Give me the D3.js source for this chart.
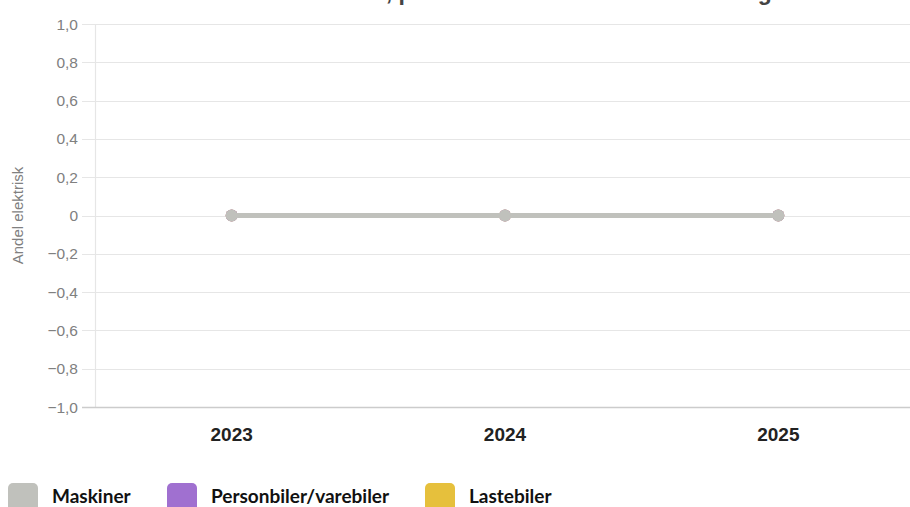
<!DOCTYPE html>
<html>
<head>
<meta charset="utf-8">
<script src="https://cdn.jsdelivr.net/npm/d3@7"></script>
<style>
  html, body { margin: 0; padding: 0; background: #fff; }
  svg { display: block; }
</style>
</head>
<body>
<svg id="chart" width="910" height="507"></svg>
<script>
const titleText = "Andel elektrisk, per sektor i kommunen – utvikling";
const years = ["2023", "2024", "2025"];
const seriesNames = ["Maskiner", "Personbiler/varebiler", "Lastebiler"];
const seriesColors = ["#c0c1bc", "#a070d0", "#e6c03c"];
const maskiner = [0, 0, 0];
const personbiler = [0, 0, 0];
const lastebiler = [0, 0, 0];
const yTicks = [-1.0, -0.8, -0.6, -0.4, -0.2, 0, 0.2, 0.4, 0.6, 0.8, 1.0];
const yTitle = "Andel elektrisk";

const seriesValues = [maskiner, personbiler, lastebiler];

const svg = d3.select("#chart");
const W = 910, H = 507;
const plot = { left: 95, right: 915, top: 24, bottom: 407 };

const x = d3.scalePoint().domain(years).range([plot.left, plot.right]).padding(0.5);
const y = d3.scaleLinear().domain([-1, 1]).range([plot.bottom, plot.top]);

const fmt = v => {
  if (Math.abs(v) < 1e-9) return "0";
  return (v < 0 ? "\u2212" : "") + Math.abs(v).toFixed(1).replace(".", ",");
};

// title (cut off at top, as in the reference)
svg.append("text")
  .attr("x", 497).attr("y", 0)
  .attr("text-anchor", "middle")
  .attr("font-family", "'Liberation Sans', Arial, sans-serif")
  .attr("font-weight", "bold")
  .attr("font-size", 23)
  .attr("fill", "#444")
  .text(titleText);

// grid lines
const grid = svg.append("g");
grid.selectAll("line").data(yTicks.filter(t => t !== -1)).enter().append("line")
  .attr("x1", 82).attr("x2", W)
  .attr("y1", d => Math.round(y(d)) + 0.5).attr("y2", d => Math.round(y(d)) + 0.5)
  .attr("stroke", "#e6e6e6").attr("stroke-width", 1.2);

// y axis line
svg.append("line")
  .attr("x1", plot.left + 0.5).attr("x2", plot.left + 0.5)
  .attr("y1", plot.top).attr("y2", plot.bottom)
  .attr("stroke", "#e6e6e6").attr("stroke-width", 1.2);

// x axis line (bottom)
svg.append("line")
  .attr("x1", 82).attr("x2", W)
  .attr("y1", Math.round(y(-1)) + 0.5).attr("y2", Math.round(y(-1)) + 0.5)
  .attr("stroke", "#cccccc").attr("stroke-width", 1.5);

// y labels
svg.append("g").selectAll("text").data(yTicks).enter().append("text")
  .attr("x", 78).attr("y", d => y(d) + 5.5)
  .attr("text-anchor", "end")
  .attr("font-family", "'Liberation Sans', Arial, sans-serif")
  .attr("font-size", 15.5)
  .attr("fill", "#808080")
  .text(fmt);

// y title
svg.append("text")
  .attr("transform", `translate(23, ${y(0)}) rotate(-90)`)
  .attr("text-anchor", "middle")
  .attr("font-family", "'Liberation Sans', Arial, sans-serif")
  .attr("font-size", 15)
  .attr("fill", "#808080")
  .text(yTitle);

// x labels
svg.append("g").selectAll("text").data(years).enter().append("text")
  .attr("x", d => x(d)).attr("y", 441)
  .attr("text-anchor", "middle")
  .attr("font-family", "'Liberation Sans Narrow', 'Liberation Sans', Arial, sans-serif")
  .attr("font-weight", "bold")
  .attr("font-size", 19)
  .attr("fill", "#222")
  .text(d => d);

// series (draw last series first so Maskiner is on top)
const line = d3.line().x((d, i) => x(years[i])).y(d => y(d));
for (let s = seriesValues.length - 1; s >= 0; s--) {
  const g = svg.append("g");
  g.append("path").datum(seriesValues[s])
    .attr("d", line)
    .attr("fill", "none")
    .attr("stroke", seriesColors[s])
    .attr("stroke-width", 5);
  g.selectAll("circle").data(seriesValues[s]).enter().append("circle")
    .attr("cx", (d, i) => x(years[i])).attr("cy", d => y(d))
    .attr("r", 6)
    .attr("fill", seriesColors[s]);
}

// legend
const legendX = [8, 167, 425];
const lg = svg.append("g");
seriesNames.forEach((n, i) => {
  lg.append("rect")
    .attr("x", legendX[i]).attr("y", 483)
    .attr("width", 30).attr("height", 30)
    .attr("rx", 5).attr("ry", 5)
    .attr("fill", seriesColors[i]);
  lg.append("text")
    .attr("x", legendX[i] + 44).attr("y", 503)
    .attr("font-family", "Lato, 'Open Sans', sans-serif")
    .attr("font-weight", "bold")
    .attr("font-size", 19)
    .attr("fill", "#111")
    .text(n);
});
</script>
</body>
</html>
